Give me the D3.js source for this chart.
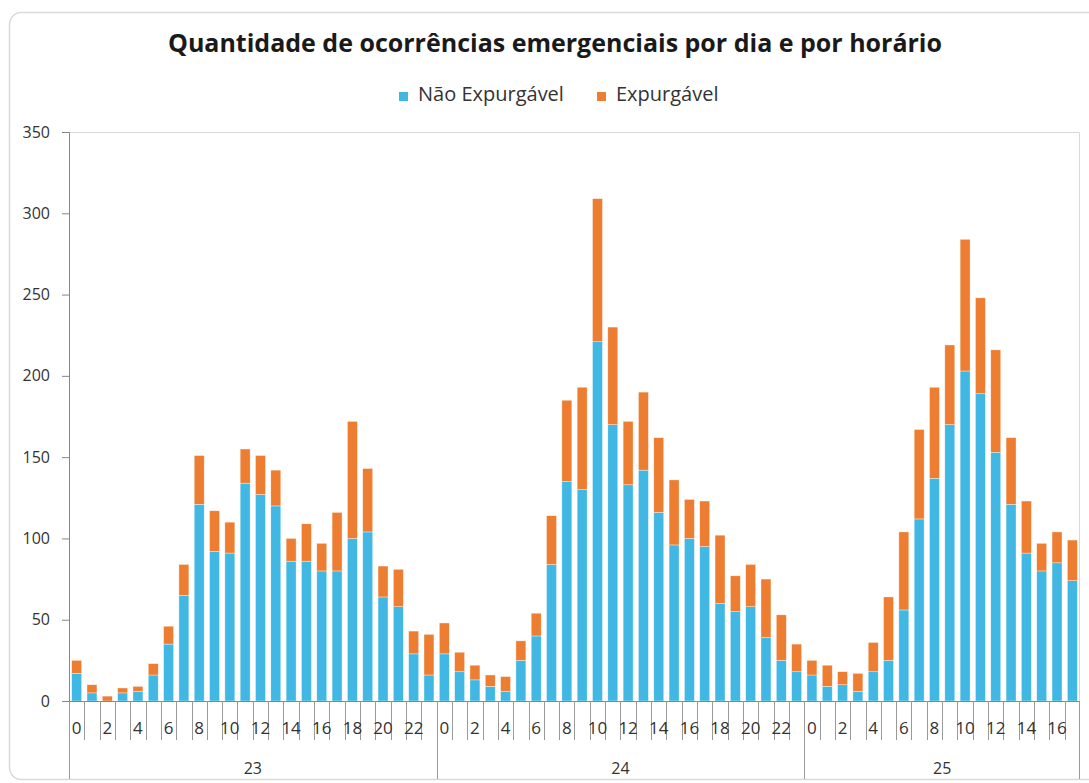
<!DOCTYPE html>
<html>
<head>
<meta charset="utf-8">
<script src="https://cdn.jsdelivr.net/npm/d3@7"></script>
<style>
  body { margin: 0; background: #fff; }
</style>
</head>
<body>
<div class="center"></div>
<script>
// data
var days = ["23", "24", "25"];
var hoursPerDay = [24, 24, 18];
var series = ["Não Expurgável", "Expurgável"];

var naoExpurgavel = [
  17, 5, 0, 5, 6, 16, 35, 65, 121, 92, 91, 134, 127, 120, 86, 86, 80, 80, 100, 104, 64, 58, 29, 16,
  29, 18, 13, 9, 6, 25, 40, 84, 135, 130, 221, 170, 133, 142, 116, 96, 100, 95, 60, 55, 58, 39, 25, 18,
  16, 9, 10, 6, 18, 25, 56, 112, 137, 170, 203, 189, 153, 121, 91, 80, 85, 74
];
var expurgavel = [
  8, 5, 3, 3, 3, 7, 11, 19, 30, 25, 19, 21, 24, 22, 14, 23, 17, 36, 72, 39, 19, 23, 14, 25,
  19, 12, 9, 7, 9, 12, 14, 30, 50, 63, 88, 60, 39, 48, 46, 40, 24, 28, 42, 22, 26, 36, 28, 17,
  9, 13, 8, 11, 18, 39, 48, 55, 56, 49, 81, 59, 63, 41, 32, 17, 19, 25
];
var yTicks = [0, 50, 100, 150, 200, 250, 300, 350];

var colors = ["#41b8e4", "#ed7d31"];

// build the rows
var data = [];
var k = 0;
days.forEach(function(day, di) {
  for (var h = 0; h < hoursPerDay[di]; h++) {
    data.push({key: day + "-" + h, day: day, hour: h,
               "Não Expurgável": naoExpurgavel[k], "Expurgável": expurgavel[k]});
    k++;
  }
});

var W = 1089, H = 783;
var margin = {top: 132, right: 9, bottom: 82, left: 69},
    width = W - margin.left - margin.right,
    height = H - margin.top - margin.bottom;

var svg = d3.select(".center").append("svg")
    .attr("width", W)
    .attr("height", H)
    .style("font-family", "'Open Sans', sans-serif");

// outer chart frame
svg.append("rect")
    .attr("x", 9.5).attr("y", 12.5)
    .attr("width", 1100).attr("height", 767)
    .attr("rx", 12)
    .attr("fill", "#fff")
    .attr("stroke", "#d9d9d9")
    .attr("stroke-width", 1.5);

var g = svg.append("g")
    .attr("transform", "translate(" + margin.left + "," + margin.top + ")");

var x = d3.scaleBand()
    .domain(data.map(function(d) { return d.key; }))
    .range([0, width])
    .paddingInner(0.35)
    .paddingOuter(0.175);
var y = d3.scaleLinear().domain([0, 350]).range([height, 0]);

// plot area border (top and right)
g.append("path")
    .attr("d", "M0,0.5H" + (width - 0.5) + "V" + height)
    .attr("fill", "none")
    .attr("stroke", "#d9d9d9");

// stacked bars
var stack = d3.stack().keys(series);
var layers = stack(data);

g.selectAll(".layer")
    .data(layers)
    .enter().append("g")
    .attr("fill", function(d, i) { return colors[i]; })
    .selectAll("rect")
    .data(function(d) { return d; })
    .enter().append("rect")
    .attr("x", function(d) { return x(d.data.key); })
    .attr("width", x.bandwidth())
    .attr("y", function(d) { return y(d[1]); })
    .attr("height", function(d) { return y(d[0]) - y(d[1]); })
    .attr("stroke", "#fff")
    .attr("stroke-opacity", 0.6)
    .attr("stroke-width", 0.6);

// Y axis
var yAxis = g.append("g")
    .call(d3.axisLeft(y).tickValues(yTicks).tickSize(7).tickPadding(12));
yAxis.selectAll("line, path").attr("stroke", "#868686");
yAxis.selectAll("text").attr("font-size", "16px").attr("fill", "#333")
    .attr("font-family", "'Open Sans', sans-serif");

// X axis baseline
g.append("line")
    .attr("x1", -7).attr("x2", width)
    .attr("y1", height + 0.5).attr("y2", height + 0.5)
    .attr("stroke", "#868686");

var step = x.step();
var gap = step * x.paddingInner() / 2;

// hour separators
var xg = g.append("g").attr("transform", "translate(0," + height + ")");
xg.selectAll(".sep")
    .data(data)
    .enter().append("line")
    .attr("x1", function(d) { return Math.round(x(d.key) - gap) + 0.5; })
    .attr("x2", function(d) { return Math.round(x(d.key) - gap) + 0.5; })
    .attr("y1", 0)
    .attr("y2", function(d) { return d.hour === 0 ? 78 : 39; })
    .attr("stroke", "#9a9a9a");

// end line of the last day
xg.append("line")
    .attr("x1", width - 0.5).attr("x2", width - 0.5)
    .attr("y1", 0).attr("y2", 78)
    .attr("stroke", "#9a9a9a");

// hour labels (every other one)
xg.selectAll(".hour")
    .data(data.filter(function(d) { return d.hour % 2 === 0; }))
    .enter().append("text")
    .attr("x", function(d) { return x(d.key) + x.bandwidth() / 2; })
    .attr("y", 33)
    .attr("text-anchor", "middle")
    .attr("font-size", "17px")
    .attr("fill", "#333")
    .text(function(d) { return d.hour; });

// day labels
xg.selectAll(".day")
    .data(days)
    .enter().append("text")
    .attr("x", function(d) {
      var ds = data.filter(function(r) { return r.day === d; });
      var a = x(ds[0].key) - gap, b = x(ds[ds.length - 1].key) + x.bandwidth() + gap;
      return (a + b) / 2;
    })
    .attr("y", 73)
    .attr("text-anchor", "middle")
    .attr("font-size", "16px")
    .attr("fill", "#333")
    .text(function(d) { return d; });

// title
svg.append("text")
    .attr("x", 555)
    .attr("y", 52)
    .attr("text-anchor", "middle")
    .attr("font-size", "25px")
    .attr("font-weight", "bold")
    .attr("fill", "#1a1a1a")
    .text("Quantidade de ocorrências emergenciais por dia e por horário");

// legend
var legend = svg.append("g").attr("transform", "translate(399,92)");
var lx = [0, 198];
series.forEach(function(s, i) {
  legend.append("rect")
      .attr("x", lx[i]).attr("y", 0)
      .attr("width", 9).attr("height", 9)
      .attr("fill", colors[i]);
  legend.append("text")
      .attr("x", lx[i] + 19).attr("y", 9)
      .attr("font-size", "20px")
      .attr("fill", "#333")
      .text(s);
});
</script>
</body>
</html>
